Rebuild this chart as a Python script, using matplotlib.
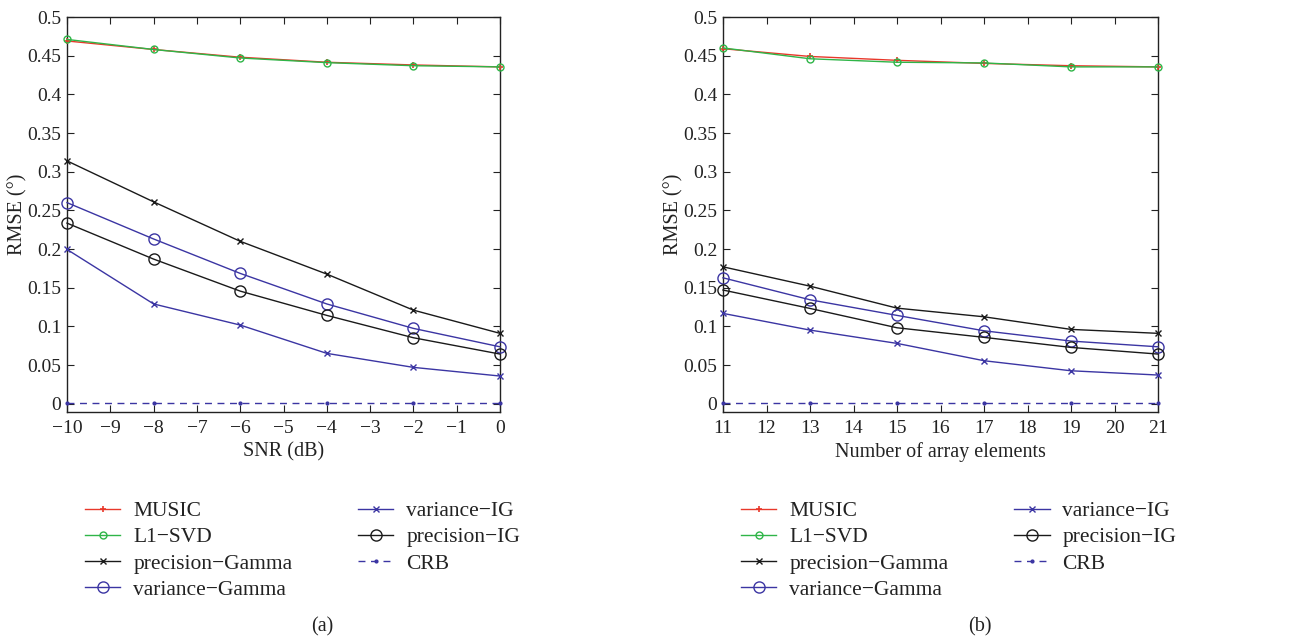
import matplotlib
matplotlib.use("Agg")
import matplotlib.pyplot as plt
import numpy as np

plt.rcParams['font.family'] = ['Liberation Serif', 'DejaVu Serif']
plt.rcParams['mathtext.fontset'] = 'stix'

snr = [-10, -8, -6, -4, -2, 0]
elements = [11, 13, 15, 17, 19, 21]

labels = ["MUSIC", "L1\u2212SVD", "precision\u2212Gamma", "variance\u2212Gamma",
          "variance\u2212IG", "precision\u2212IG", "CRB"]

# Panel (a): RMSE vs SNR
a_music = [0.469, 0.458, 0.448, 0.4415, 0.438, 0.4355]
a_l1svd = [0.471, 0.458, 0.447, 0.441, 0.437, 0.4355]
a_precision_gamma = [0.314, 0.261, 0.210, 0.1676, 0.121, 0.091]
a_variance_gamma = [0.260, 0.213, 0.1685, 0.129, 0.0974, 0.0736]
a_variance_ig = [0.1995, 0.129, 0.1017, 0.0651, 0.047, 0.0358]
a_precision_ig = [0.2335, 0.187, 0.1456, 0.1142, 0.0853, 0.0642]
a_crb = [0.001, 0.001, 0.001, 0.001, 0.001, 0.001]

# Panel (b): RMSE vs number of array elements
b_music = [0.459, 0.449, 0.444, 0.440, 0.437, 0.4355]
b_l1svd = [0.460, 0.446, 0.4415, 0.4406, 0.4355, 0.4355]
b_precision_gamma = [0.177, 0.152, 0.1236, 0.1124, 0.0961, 0.091]
b_variance_gamma = [0.1628, 0.1344, 0.1142, 0.0943, 0.081, 0.0736]
b_variance_ig = [0.1168, 0.0952, 0.078, 0.0556, 0.0426, 0.0371]
b_precision_ig = [0.147, 0.1232, 0.0982, 0.0858, 0.0728, 0.0642]
b_crb = [0.001, 0.001, 0.001, 0.001, 0.001, 0.001]

RED = '#e8382b'
GREEN = '#2fb548'
BLUE = '#3b35a3'
BLACK = '#1a1a1a'

styles = [
    dict(color=RED, marker='+', ms=5, mew=1.2, lw=1.0),
    dict(color=GREEN, marker='o', ms=5, mfc='none', mew=1.0, lw=1.0),
    dict(color=BLACK, marker='x', ms=4, mew=1.0, lw=1.0),
    dict(color=BLUE, marker='o', ms=8, mfc='none', mew=1.0, lw=1.0),
    dict(color=BLUE, marker='x', ms=4, mew=1.0, lw=1.0),
    dict(color=BLACK, marker='o', ms=8, mfc='none', mew=1.0, lw=1.0),
    dict(color=BLUE, marker='.', ms=4, lw=1.0, ls=(0, (5, 4))),
]

fig = plt.figure(figsize=(13.12, 6.44), dpi=100)
W, H = 1312, 644
ax1 = fig.add_axes([67 / W, 232 / H, 433 / W, 395 / H])
ax2 = fig.add_axes([723 / W, 232 / H, 435 / W, 395 / H])

panels = [
    (ax1, snr, [a_music, a_l1svd, a_precision_gamma, a_variance_gamma,
                a_variance_ig, a_precision_ig, a_crb], "SNR (dB)", "(a)", (-10, 0)),
    (ax2, elements, [b_music, b_l1svd, b_precision_gamma, b_variance_gamma,
                     b_variance_ig, b_precision_ig, b_crb], "Number of array elements", "(b)", (11, 21)),
]

for ax, xs, series, xlabel, tag, xlim in panels:
    handles = []
    for i in range(7):
        h, = ax.plot(xs, series[i], label=labels[i], clip_on=False, zorder=3, **styles[i])
        handles.append(h)
    ax.set_xlim(*xlim)
    ax.set_ylim(-0.0107, 0.5)
    ax.set_xticks(np.arange(xlim[0], xlim[1] + 1, 1))
    yt = np.round(np.arange(0, 0.501, 0.05), 2)
    ax.set_yticks(yt)
    ax.set_yticklabels(['0' if v == 0 else ('%g' % v) for v in yt])
    ax.tick_params(direction='in', top=True, right=True, length=5, width=0.8,
                   labelsize=14, colors='#222222', pad=4)
    ax.tick_params(axis='x', pad=5.5)
    for sp in ax.spines.values():
        sp.set_linewidth(1.0)
        sp.set_color('#222222')
    ax.set_xlabel(xlabel, fontsize=14.5, color='#222222', labelpad=4)
    ax.set_ylabel("RMSE (\u00b0)", fontsize=14.5, color='#222222', labelpad=0)
    leg = ax.legend(handles=handles, loc='upper left', bbox_to_anchor=(0.042, -0.226),
                    ncol=2, frameon=False, fontsize=15.5, handlelength=1.63,
                    handletextpad=0.6, columnspacing=3.07, labelspacing=0.28,
                    borderaxespad=0.0, borderpad=0.0)
    for t in leg.get_texts():
        t.set_color('#222222')
    bb = ax.get_position()
    fig.text(bb.x0 + bb.width * 0.59, 1 - 627 / H, tag, ha='center', va='center',
             fontsize=14.5, color='#222222')

fig.savefig("out.png", dpi=100)
